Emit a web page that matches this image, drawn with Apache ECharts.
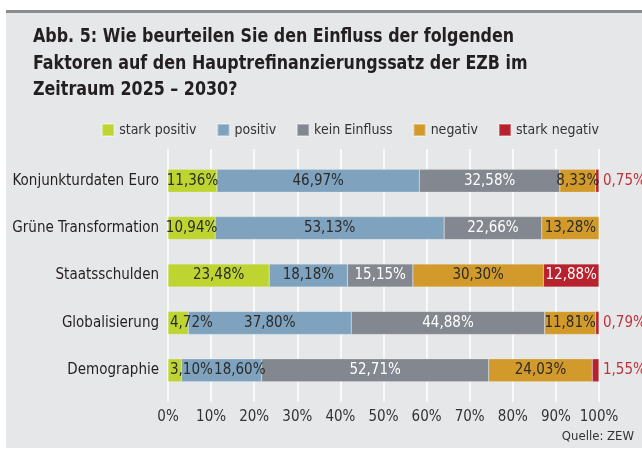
<!DOCTYPE html>
<html>
<head>
<meta charset="utf-8">
<script src="https://cdn.jsdelivr.net/npm/echarts@6/dist/echarts.min.js"></script>
<style>
  html, body { margin: 0; padding: 0; background: #fff; }
  #chart { width: 642px; height: 450px; }
</style>
</head>
<body>
<div id="chart"></div>
<script>
// Abb. 5 – Einfluss der Faktoren auf den Hauptrefinanzierungssatz (Anteile in %)
const categories = ['Konjunkturdaten Euro', 'Grüne Transformation', 'Staatsschulden', 'Globalisierung', 'Demographie']
const seriesNames = ['stark positiv', 'positiv', 'kein Einfluss', 'negativ', 'stark negativ']
const starkPositiv = [11.36, 10.94, 23.48, 4.72, 3.10]
const positiv = [46.97, 53.13, 18.18, 37.80, 18.60]
const keinEinfluss = [32.58, 22.66, 15.15, 44.88, 52.71]
const negativ = [8.33, 13.28, 30.30, 11.81, 24.03]
const starkNegativ = [0.75, 0, 12.88, 0.79, 1.55]
const xTicks = [0, 10, 20, 30, 40, 50, 60, 70, 80, 90, 100]

const FONT = "'Liberation Sans Narrow', 'DejaVu Sans Condensed', sans-serif"
const colors = ['#bed431', '#7fa3be', '#83878f', '#d29a2b', '#b8222e']
const labelColors = ['#2b2b2b', '#2b2b2b', '#ffffff', '#2b2b2b', '#ffffff']
const values = [starkPositiv, positiv, keinEinfluss, negativ, starkNegativ]

const fmt = (v) => v.toFixed(2).replace('.', ',') + '%'

function itemLabel(si, i) {
  const v = values[si][i]
  if (v === 0) return { show: false }
  // sehr kleine Segmente: Beschriftung außerhalb bzw. an den Rand geschoben
  if (si === 4 && v < 2) return { position: 'right', color: '#c0333c', distance: 4 }
  if (si === 0 && v < 6) return { position: 'insideLeft', distance: 2 }
  if (si === 1 && starkPositiv[i] < 6 && v < 25) return { position: 'insideRight', distance: -4 }
  return {}
}

const series = seriesNames.map((name, si) => ({
  name,
  type: 'bar',
  stack: 'total',
  xAxisIndex: 1,
  yAxisIndex: 1,
  barWidth: 23,
  itemStyle: { color: colors[si], borderColor: 'rgba(255,255,255,0.35)', borderWidth: 0.5 },
  label: {
    show: true,
    position: 'inside',
    color: labelColors[si],
    fontFamily: FONT,
    fontSize: 15,
    formatter: (p) => fmt(p.value)
  },
  data: values[si].map((v, i) => ({ value: v, label: itemLabel(si, i) }))
}))

const chart = echarts.init(document.getElementById('chart'), null, { renderer: 'canvas' })
chart.setOption({
  animation: false,
  backgroundColor: '#ffffff',
  textStyle: { fontFamily: FONT },
  graphic: [
    { type: 'rect', z: -10, shape: { x: 6, y: 10, width: 636, height: 438 }, style: { fill: '#e6e7e9' } },
    { type: 'rect', z: -9, shape: { x: 6, y: 10, width: 636, height: 3 }, style: { fill: '#8b8c8e' } },
    {
      // Titel leicht schmal gezogen, damit er der Schmalschrift des Originals entspricht
      type: 'text', x: 33, y: 24, scaleX: 0.885, originX: 0,
      style: {
        text: 'Abb. 5: Wie beurteilen Sie den Einfluss der folgenden\nFaktoren auf den Hauptrefinanzierungssatz der EZB im\nZeitraum 2025 – 2030?',
        font: 'bold 20px ' + FONT,
        lineHeight: 26.5,
        fill: '#231f20'
      }
    },
    {
      type: 'text', right: 8, top: 430,
      style: { text: 'Quelle: ZEW', font: '13px ' + FONT, fill: '#333333' }
    }
  ],
  legend: {
    data: seriesNames,
    right: 38,
    top: 118,
    itemWidth: 12,
    itemHeight: 12,
    itemGap: 20,
    icon: 'rect',
    textStyle: { fontFamily: FONT, fontSize: 14, color: '#333333' }
  },
  grid: [
    { left: 168, right: 43, top: 149, height: 253 },
    { left: 168, right: 43, top: 157, height: 237 }
  ],
  xAxis: [
    {
      gridIndex: 0,
      type: 'value',
      min: xTicks[0],
      max: xTicks[xTicks.length - 1],
      interval: xTicks[1] - xTicks[0],
      axisLine: { show: false },
      axisTick: { show: false },
      axisLabel: { formatter: '{value}%', color: '#333333', fontSize: 15, margin: 8 },
      splitLine: { lineStyle: { color: '#ffffff', width: 1.5 } }
    },
    { gridIndex: 1, type: 'value', min: 0, max: 100, show: false }
  ],
  yAxis: [
    { gridIndex: 0, type: 'category', data: categories, show: false },
    {
      gridIndex: 1,
      type: 'category',
      data: categories,
      inverse: true,
      axisLine: { show: false },
      axisTick: { show: false },
      axisLabel: { color: '#231f20', fontSize: 15, margin: 9 }
    }
  ],
  series
})
</script>
</body>
</html>
